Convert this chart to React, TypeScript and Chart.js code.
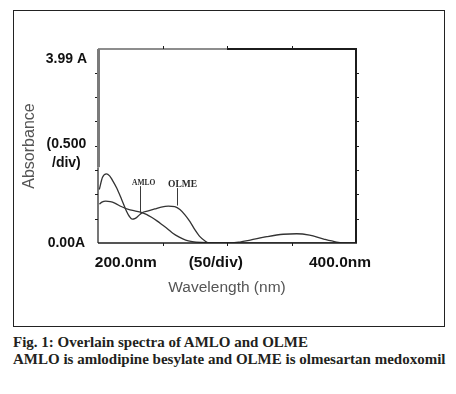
import React, { useEffect, useRef } from "react";
import { Chart, registerables } from "chart.js";

Chart.register(...registerables);

// ---- data ----
const amloWavelength = [201, 203, 206, 209.5, 213, 218, 223.5, 228.5, 233.5, 237.5, 241.5, 246, 250, 254, 258, 263, 268, 273, 280, 290, 303, 310, 318, 331, 343.6, 354, 364, 375, 385, 392, 400];
const amloAbsorbance = [0.8, 0.84, 0.86, 0.85, 0.82, 0.75, 0.69, 0.66, 0.63, 0.59, 0.53, 0.45, 0.37, 0.29, 0.2, 0.12, 0.06, 0.03, 0.01, 0, 0, 0.02, 0.06, 0.13, 0.18, 0.19, 0.16, 0.08, 0.02, 0, 0];

const olmeWavelength = [201, 203.5, 206.5, 209, 211, 214.5, 218.4, 222, 224.5, 226.5, 228.5, 231, 234, 239, 244, 249, 254.5, 259.5, 263.5, 267.4, 271.3, 275.2, 279, 283, 286, 300, 350, 400];
const olmeAbsorbance = [1.1, 1.35, 1.42, 1.38, 1.3, 1.13, 0.89, 0.66, 0.54, 0.49, 0.5, 0.55, 0.62, 0.66, 0.7, 0.74, 0.76, 0.75, 0.69, 0.58, 0.44, 0.27, 0.13, 0.04, 0, 0, 0, 0];

const xMin = 200;
const xMax = 400;
const xStep = 50;
const yMin = 0;
const yMax = 3.99;
const yStep = 0.5;

const xLabelValues = [221.6, 291.3, 387.6];
const xLabels = ["200.0nm", "(50/div)", "400.0nm"];
const yLabelValues = [0, 1.84, 3.78];
const yLabels: (string | string[])[] = ["0.00A", ["(0.500", "/div)"], "3.99 A"];

const annotationTexts = ["AMLO", "OLME"];
const annotationTextX = [226.4, 254.3];
const annotationTextY = [1.19, 1.15];
const annotationLineX = [232.6, 261.0];
const annotationLineEndY = [0.63, 0.77];
const annotationFontSizes = [7.5, 9.5];

const SANS = "'Liberation Sans', Arial, sans-serif";
const SERIF = "'Liberation Serif', 'Times New Roman', serif";

const framePlugin = {
  id: "spectrumFrame",
  afterDatasetsDraw(chart: any) {
    const { ctx, chartArea, scales } = chart;
    const { left, right, top, bottom } = chartArea;
    const x = scales.x;
    const y = scales.y;
    const seg = (x1: number, y1: number, x2: number, y2: number) => {
      ctx.beginPath();
      ctx.moveTo(x1, y1);
      ctx.lineTo(x2, y2);
      ctx.stroke();
    };
    ctx.save();
    ctx.strokeStyle = "#1c1c1c";
    ctx.lineWidth = 1;
    // tick marks
    for (let v = xMin + xStep; v < xMax - 1e-6; v += xStep) {
      const px = Math.round(x.getPixelForValue(v)) + 0.5;
      seg(px, top, px, top - 3);
      seg(px, bottom, px, bottom + 3);
    }
    for (let v = yMin + yStep; v < yMax - 1e-6; v += yStep) {
      const py = Math.round(y.getPixelForValue(v)) + 0.5;
      seg(left, py, left - 3, py);
      seg(right, py, right + 3, py);
    }
    // frame
    ctx.lineWidth = 1.5;
    seg(left, bottom, right + 1, bottom);
    ctx.lineWidth = 2;
    seg(right, top, right, bottom);
    const mid = x.getPixelForValue(300);
    ctx.lineWidth = 1.2;
    seg(left, top, mid, top);
    ctx.lineWidth = 2;
    seg(mid, top, right + 1, top);
    const grayEnd = y.getPixelForValue(1.56);
    ctx.lineWidth = 1.2;
    seg(left, bottom, left, grayEnd);
    ctx.strokeStyle = "#7a7a7a";
    ctx.lineWidth = 3;
    seg(left + 0.5, grayEnd, left + 0.5, top);
    // annotations
    ctx.strokeStyle = "#3a3a3a";
    ctx.fillStyle = "#2a2a2a";
    ctx.lineWidth = 1;
    ctx.textBaseline = "alphabetic";
    ctx.textAlign = "left";
    annotationTexts.forEach((t, i) => {
      ctx.font = `bold ${annotationFontSizes[i]}px ${SERIF}`;
      ctx.fillText(t, x.getPixelForValue(annotationTextX[i]), y.getPixelForValue(annotationTextY[i]));
      const lx = Math.round(x.getPixelForValue(annotationLineX[i])) + 0.5;
      seg(lx, y.getPixelForValue(annotationTextY[i]) + 1, lx, y.getPixelForValue(annotationLineEndY[i]));
    });
    ctx.restore();
  },
};

export default function App() {
  const canvasRef = useRef<HTMLCanvasElement | null>(null);

  useEffect(() => {
    if (!canvasRef.current) return;
    const lineStyle = {
      borderColor: "#333333",
      borderWidth: 1.3,
      pointRadius: 0,
      fill: false,
      cubicInterpolationMode: "monotone" as const,
    };
    const chart = new Chart(canvasRef.current, {
      type: "line",
      data: {
        datasets: [
          { label: "AMLO", data: amloWavelength.map((w, i) => ({ x: w, y: amloAbsorbance[i] })), ...lineStyle },
          { label: "OLME", data: olmeWavelength.map((w, i) => ({ x: w, y: olmeAbsorbance[i] })), ...lineStyle },
        ],
      },
      options: {
        responsive: false,
        animation: false,
        devicePixelRatio: 1,
        layout: { padding: { top: 49, right: 100, left: 0, bottom: 0 } },
        plugins: { legend: { display: false }, tooltip: { enabled: false } },
        scales: {
          x: {
            type: "linear",
            min: xMin,
            max: xMax,
            afterBuildTicks: (s: any) => {
              s.ticks = xLabelValues.map((v) => ({ value: v }));
            },
            afterFit: (s: any) => {
              s.height = 67;
            },
            grid: { display: false, drawTicks: false },
            border: { display: false },
            ticks: {
              autoSkip: false,
              maxRotation: 0,
              minRotation: 0,
              padding: 10,
              color: "#111",
              font: { family: SANS, size: 15.5, weight: "bold" },
              callback: (_v: any, i: number) => xLabels[i],
            },
            title: {
              display: true,
              text: "Wavelength (nm)",
              color: "#555",
              font: { family: SANS, size: 15.5 },
              padding: { top: 0, bottom: 12.7 },
            },
          },
          y: {
            type: "linear",
            min: yMin,
            max: yMax,
            afterBuildTicks: (s: any) => {
              s.ticks = yLabelValues.map((v) => ({ value: v }));
            },
            afterFit: (s: any) => {
              s.width = 98;
            },
            grid: { display: false, drawTicks: false },
            border: { display: false },
            ticks: {
              autoSkip: false,
              crossAlign: "center",
              padding: 11,
              color: "#111",
              font: { family: SANS, size: 14, weight: "bold", lineHeight: 1.35 },
              callback: (_v: any, i: number) => yLabels[i],
            },
            title: {
              display: true,
              text: "Absorbance",
              color: "#555",
              font: { family: SANS, size: 16 },
              padding: { top: 19.6, bottom: 0 },
            },
          },
        },
      },
      plugins: [framePlugin],
    } as any);
    return () => chart.destroy();
  }, []);

  return (
    <div style={{ position: "absolute", left: 0, top: 0, width: 456, height: 394, background: "#fff" }}>
      <div
        style={{
          position: "absolute",
          left: 13,
          top: 10,
          width: 432,
          height: 317,
          boxSizing: "border-box",
          border: "1.5px solid #222",
        }}
      />
      <canvas
        ref={canvasRef}
        width={456}
        height={310}
        style={{ position: "absolute", left: 0, top: 0, width: 456, height: 310 }}
      />
      <div
        style={{
          position: "absolute",
          left: 13,
          top: 333.7,
          fontFamily: SERIF,
          fontWeight: "bold",
          fontSize: 15,
          lineHeight: "17px",
          color: "#231f20",
          whiteSpace: "nowrap",
        }}
      >
        <div>Fig. 1: Overlain spectra of AMLO and OLME</div>
        <div>AMLO is amlodipine besylate and OLME is olmesartan medoxomil</div>
      </div>
    </div>
  );
}
